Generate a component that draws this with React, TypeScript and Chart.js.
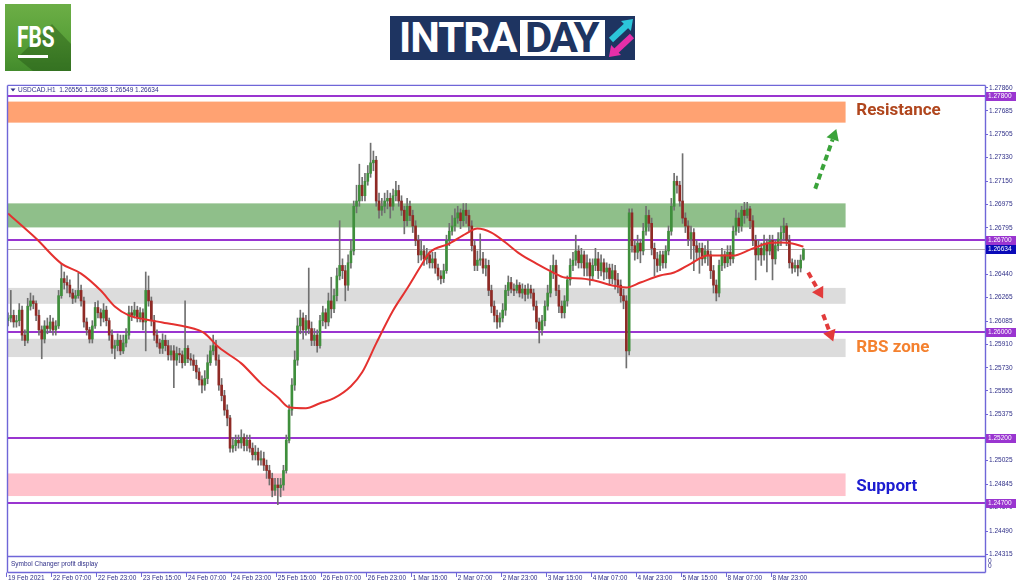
import React, { useEffect, useRef } from 'react';
import { Chart, registerables } from 'chart.js';

Chart.register(...registerables);

// ---------------- data ----------------
const SYMBOL = 'USDCAD.H1';

const X_TICK_INDEX = [0, 16, 32, 48, 64, 80, 96, 112, 128, 144, 160, 176, 192, 208, 224, 240, 256, 272];
const X_TICK_LABELS = [
  '19 Feb 2021', '22 Feb 07:00', '22 Feb 23:00', '23 Feb 15:00', '24 Feb 07:00', '24 Feb 23:00',
  '25 Feb 15:00', '26 Feb 07:00', '26 Feb 23:00', '1 Mar 15:00', '2 Mar 07:00', '2 Mar 23:00',
  '3 Mar 15:00', '4 Mar 07:00', '4 Mar 23:00', '5 Mar 15:00', '8 Mar 07:00', '8 Mar 23:00',
];

const Y_TICKS = [
  1.2786, 1.27685, 1.27505, 1.2733, 1.2715, 1.26975, 1.26795, 1.2662, 1.2644, 1.26265, 1.26085,
  1.2591, 1.2573, 1.25555, 1.25375, 1.252, 1.25025, 1.24845, 1.2467, 1.2449, 1.24315,
];

// hourly candles: [open, high, low, close]
const OHLC = [
  [1.2609,1.2615,1.2605,1.2611],[1.2611,1.2632,1.2608,1.2613],[1.2613,1.2617,1.2604,1.2608],[1.2608,1.2613,1.2604,1.2609],
  [1.2609,1.2622,1.2605,1.2617],[1.2617,1.2620,1.2594,1.2598],[1.2598,1.2602,1.2590,1.2594],[1.2594,1.2626,1.2592,1.2620],
  [1.2620,1.2630,1.2617,1.2624],[1.2624,1.2628,1.2618,1.2622],[1.2622,1.2624,1.2609,1.2613],[1.2613,1.2617,1.2598,1.2602],
  [1.2602,1.2605,1.2580,1.2595],[1.2595,1.2609,1.2592,1.2605],[1.2605,1.2611,1.2599,1.2603],[1.2603,1.2613,1.2600,1.2608],
  [1.2608,1.2611,1.2598,1.2602],[1.2602,1.2609,1.2598,1.2605],[1.2605,1.2632,1.2603,1.2628],[1.2628,1.2652,1.2626,1.2641],
  [1.2641,1.2646,1.2633,1.2638],[1.2638,1.2643,1.2630,1.2636],[1.2636,1.2640,1.2627,1.2630],[1.2630,1.2633,1.2622,1.2626],
  [1.2626,1.2632,1.2623,1.2628],[1.2628,1.2645,1.2626,1.2632],[1.2632,1.2636,1.2620,1.2624],[1.2624,1.2627,1.2604,1.2608],
  [1.2608,1.2611,1.2598,1.2602],[1.2602,1.2604,1.2592,1.2595],[1.2595,1.2609,1.2592,1.2605],[1.2605,1.2623,1.2603,1.2619],
  [1.2619,1.2624,1.2611,1.2615],[1.2615,1.2618,1.2605,1.2611],[1.2611,1.2622,1.2608,1.2617],[1.2617,1.2620,1.2605,1.2609],
  [1.2609,1.2611,1.2594,1.2598],[1.2598,1.2602,1.2584,1.2588],[1.2588,1.2594,1.2580,1.2590],[1.2590,1.2599,1.2586,1.2594],
  [1.2594,1.2598,1.2583,1.2586],[1.2586,1.2598,1.2584,1.2592],[1.2592,1.2603,1.2589,1.2598],[1.2598,1.2620,1.2595,1.2615],
  [1.2615,1.2620,1.2609,1.2613],[1.2613,1.2623,1.2611,1.2617],[1.2617,1.2620,1.2608,1.2611],[1.2611,1.2619,1.2608,1.2615],
  [1.2615,1.2618,1.2602,1.2608],[1.2608,1.2646,1.2586,1.2632],[1.2632,1.2643,1.2620,1.2624],[1.2624,1.2627,1.2605,1.2609],
  [1.2609,1.2613,1.2594,1.2598],[1.2598,1.2602,1.2589,1.2592],[1.2592,1.2595,1.2584,1.2588],[1.2588,1.2599,1.2584,1.2594],
  [1.2594,1.2598,1.2586,1.2590],[1.2590,1.2594,1.2579,1.2583],[1.2583,1.2590,1.2579,1.2586],[1.2586,1.2590,1.2558,1.2579],
  [1.2579,1.2589,1.2575,1.2584],[1.2584,1.2588,1.2577,1.2583],[1.2583,1.2586,1.2573,1.2577],[1.2577,1.2624,1.2575,1.2588],
  [1.2588,1.2590,1.2577,1.2580],[1.2580,1.2584,1.2575,1.2579],[1.2579,1.2583,1.2571,1.2575],[1.2575,1.2579,1.2565,1.2570],
  [1.2570,1.2573,1.2560,1.2564],[1.2564,1.2567,1.2554,1.2560],[1.2560,1.2571,1.2556,1.2565],[1.2565,1.2583,1.2561,1.2577],
  [1.2577,1.2590,1.2575,1.2586],[1.2586,1.2598,1.2583,1.2590],[1.2590,1.2594,1.2575,1.2579],[1.2579,1.2583,1.2556,1.2560],
  [1.2560,1.2565,1.2548,1.2552],[1.2552,1.2556,1.2537,1.2541],[1.2541,1.2545,1.2529,1.2535],[1.2535,1.2537,1.2509,1.2512],
  [1.2512,1.2520,1.2509,1.2514],[1.2514,1.2522,1.2510,1.2518],[1.2518,1.2522,1.2512,1.2516],[1.2516,1.2526,1.2512,1.2520],
  [1.2520,1.2523,1.2510,1.2514],[1.2514,1.2522,1.2510,1.2518],[1.2518,1.2522,1.2509,1.2512],[1.2512,1.2516,1.2503,1.2507],
  [1.2507,1.2514,1.2503,1.2509],[1.2509,1.2512,1.2499,1.2503],[1.2503,1.2510,1.2499,1.2504],[1.2504,1.2509,1.2495,1.2499],
  [1.2499,1.2503,1.2489,1.2495],[1.2495,1.2499,1.2484,1.2489],[1.2489,1.2493,1.2475,1.2480],[1.2480,1.2489,1.2476,1.2484],
  [1.2484,1.2489,1.2469,1.2482],[1.2482,1.2489,1.2475,1.2484],[1.2484,1.2499,1.2480,1.2495],[1.2495,1.2522,1.2493,1.2518],
  [1.2518,1.2545,1.2516,1.2541],[1.2541,1.2565,1.2537,1.2560],[1.2560,1.2586,1.2556,1.2579],[1.2579,1.2611,1.2575,1.2605],
  [1.2605,1.2617,1.2599,1.2611],[1.2611,1.2615,1.2595,1.2602],[1.2602,1.2613,1.2598,1.2609],[1.2609,1.2649,1.2599,1.2603],
  [1.2603,1.2608,1.2590,1.2594],[1.2594,1.2603,1.2590,1.2598],[1.2598,1.2602,1.2585,1.2590],[1.2590,1.2613,1.2588,1.2609],
  [1.2609,1.2620,1.2605,1.2615],[1.2615,1.2618,1.2603,1.2608],[1.2608,1.2630,1.2605,1.2624],[1.2624,1.2642,1.2611,1.2618],
  [1.2618,1.2633,1.2615,1.2628],[1.2628,1.2649,1.2624,1.2643],[1.2643,1.2685,1.2640,1.2651],[1.2651,1.2656,1.2641,1.2647],
  [1.2647,1.2651,1.2624,1.2636],[1.2636,1.2659,1.2632,1.2653],[1.2653,1.2670,1.2649,1.2662],[1.2662,1.2700,1.2659,1.2696],
  [1.2696,1.2712,1.2691,1.2700],[1.2700,1.2728,1.2696,1.2712],[1.2712,1.2718,1.2700,1.2704],[1.2704,1.2721,1.2700,1.2715],
  [1.2715,1.2727,1.2712,1.2721],[1.2721,1.2744,1.2718,1.2729],[1.2729,1.2738,1.2723,1.2731],[1.2731,1.2734,1.2696,1.2700],
  [1.2700,1.2706,1.2687,1.2693],[1.2693,1.2702,1.2689,1.2696],[1.2696,1.2706,1.2691,1.2700],[1.2700,1.2708,1.2694,1.2702],
  [1.2702,1.2706,1.2687,1.2696],[1.2696,1.2709,1.2693,1.2704],[1.2704,1.2715,1.2700,1.2708],[1.2708,1.2712,1.2696,1.2700],
  [1.2700,1.2704,1.2689,1.2693],[1.2693,1.2696,1.2675,1.2685],[1.2685,1.2702,1.2681,1.2696],[1.2696,1.2700,1.2685,1.2689],
  [1.2689,1.2693,1.2676,1.2681],[1.2681,1.2685,1.2666,1.2670],[1.2670,1.2674,1.2653,1.2659],[1.2659,1.2670,1.2655,1.2662],
  [1.2662,1.2666,1.2651,1.2656],[1.2656,1.2664,1.2652,1.2659],[1.2659,1.2662,1.2649,1.2653],[1.2653,1.2661,1.2649,1.2656],
  [1.2656,1.2661,1.2645,1.2649],[1.2649,1.2652,1.2640,1.2643],[1.2643,1.2647,1.2637,1.2641],[1.2641,1.2652,1.2638,1.2647],
  [1.2647,1.2674,1.2645,1.2670],[1.2670,1.2683,1.2666,1.2677],[1.2677,1.2689,1.2674,1.2681],[1.2681,1.2694,1.2677,1.2687],
  [1.2687,1.2696,1.2683,1.2691],[1.2691,1.2694,1.2679,1.2685],[1.2685,1.2698,1.2681,1.2693],[1.2693,1.2698,1.2683,1.2689],
  [1.2689,1.2693,1.2677,1.2681],[1.2681,1.2685,1.2662,1.2666],[1.2666,1.2670,1.2647,1.2651],[1.2651,1.2662,1.2647,1.2655],
  [1.2655,1.2675,1.2651,1.2656],[1.2656,1.2661,1.2645,1.2649],[1.2649,1.2656,1.2643,1.2651],[1.2651,1.2655,1.2628,1.2632],
  [1.2632,1.2636,1.2615,1.2620],[1.2620,1.2624,1.2608,1.2613],[1.2613,1.2617,1.2603,1.2608],[1.2608,1.2615,1.2604,1.2611],
  [1.2611,1.2622,1.2608,1.2617],[1.2617,1.2636,1.2613,1.2632],[1.2632,1.2643,1.2628,1.2638],[1.2638,1.2642,1.2630,1.2633],
  [1.2633,1.2637,1.2628,1.2632],[1.2632,1.2640,1.2630,1.2636],[1.2636,1.2638,1.2627,1.2630],[1.2630,1.2637,1.2626,1.2633],
  [1.2633,1.2636,1.2624,1.2629],[1.2629,1.2637,1.2626,1.2633],[1.2633,1.2636,1.2626,1.2630],[1.2630,1.2633,1.2617,1.2620],
  [1.2620,1.2624,1.2603,1.2608],[1.2608,1.2611,1.2592,1.2602],[1.2602,1.2613,1.2598,1.2609],[1.2609,1.2624,1.2605,1.2620],
  [1.2620,1.2636,1.2617,1.2630],[1.2630,1.2651,1.2627,1.2646],[1.2646,1.2659,1.2641,1.2651],[1.2651,1.2655,1.2628,1.2632],
  [1.2632,1.2636,1.2615,1.2620],[1.2620,1.2624,1.2611,1.2615],[1.2615,1.2628,1.2611,1.2624],[1.2624,1.2643,1.2620,1.2640],
  [1.2640,1.2656,1.2636,1.2651],[1.2651,1.2661,1.2647,1.2655],[1.2655,1.2674,1.2651,1.2662],[1.2662,1.2666,1.2649,1.2653],
  [1.2653,1.2664,1.2649,1.2659],[1.2659,1.2662,1.2643,1.2649],[1.2649,1.2659,1.2643,1.2653],[1.2653,1.2656,1.2636,1.2643],
  [1.2643,1.2656,1.2640,1.2651],[1.2651,1.2664,1.2647,1.2656],[1.2656,1.2661,1.2641,1.2647],[1.2647,1.2659,1.2643,1.2653],
  [1.2653,1.2656,1.2640,1.2646],[1.2646,1.2653,1.2641,1.2649],[1.2649,1.2652,1.2636,1.2641],[1.2641,1.2652,1.2637,1.2647],
  [1.2647,1.2651,1.2633,1.2640],[1.2640,1.2645,1.2630,1.2636],[1.2636,1.2640,1.2623,1.2628],[1.2628,1.2633,1.2618,1.2624],
  [1.2624,1.2628,1.2573,1.2586],[1.2586,1.2694,1.2583,1.2691],[1.2691,1.2694,1.2661,1.2666],[1.2666,1.2670,1.2655,1.2661],
  [1.2661,1.2674,1.2656,1.2668],[1.2668,1.2671,1.2653,1.2662],[1.2662,1.2683,1.2659,1.2677],[1.2677,1.2696,1.2674,1.2689],
  [1.2689,1.2693,1.2677,1.2683],[1.2683,1.2687,1.2659,1.2664],[1.2664,1.2668,1.2643,1.2656],[1.2656,1.2661,1.2646,1.2651],
  [1.2651,1.2662,1.2647,1.2659],[1.2659,1.2662,1.2649,1.2653],[1.2653,1.2666,1.2649,1.2662],[1.2662,1.2681,1.2659,1.2677],
  [1.2677,1.2702,1.2674,1.2696],[1.2696,1.2721,1.2693,1.2715],[1.2715,1.2719,1.2706,1.2712],[1.2712,1.2715,1.2696,1.2700],
  [1.2700,1.2736,1.2683,1.2687],[1.2687,1.2691,1.2676,1.2681],[1.2681,1.2685,1.2666,1.2671],[1.2671,1.2681,1.2656,1.2676],
  [1.2676,1.2679,1.2647,1.2666],[1.2666,1.2670,1.2656,1.2661],[1.2661,1.2668,1.2645,1.2664],[1.2664,1.2668,1.2651,1.2656],
  [1.2656,1.2666,1.2653,1.2662],[1.2662,1.2670,1.2651,1.2659],[1.2659,1.2662,1.2641,1.2647],[1.2647,1.2651,1.2630,1.2636],
  [1.2636,1.2640,1.2624,1.2630],[1.2630,1.2655,1.2627,1.2651],[1.2651,1.2664,1.2647,1.2659],[1.2659,1.2662,1.2649,1.2653],
  [1.2653,1.2666,1.2650,1.2661],[1.2661,1.2666,1.2651,1.2656],[1.2656,1.2681,1.2653,1.2677],[1.2677,1.2693,1.2674,1.2687],
  [1.2687,1.2691,1.2676,1.2681],[1.2681,1.2696,1.2677,1.2693],[1.2693,1.2699,1.2683,1.2689],[1.2689,1.2699,1.2687,1.2694],
  [1.2694,1.2696,1.2679,1.2685],[1.2685,1.2689,1.2666,1.2670],[1.2670,1.2674,1.2640,1.2659],[1.2659,1.2670,1.2655,1.2664],
  [1.2664,1.2668,1.2651,1.2659],[1.2659,1.2674,1.2655,1.2668],[1.2668,1.2671,1.2646,1.2662],[1.2662,1.2674,1.2659,1.2670],
  [1.2670,1.2674,1.2640,1.2656],[1.2656,1.2670,1.2652,1.2666],[1.2666,1.2676,1.2662,1.2671],[1.2671,1.2681,1.2666,1.2676],
  [1.2676,1.2687,1.2670,1.2681],[1.2681,1.2683,1.2666,1.2670],[1.2670,1.2674,1.2649,1.2653],[1.2653,1.2656,1.2645,1.2649],
  [1.2649,1.2655,1.2646,1.2651],[1.2651,1.2655,1.2643,1.2649],[1.2649,1.2659,1.2646,1.2655],[1.26556,1.26638,1.26549,1.26634],
];

// moving average (red line), read at these candle positions
const MA_INDEX = [0, 10, 19, 26, 33, 38, 43, 49, 55, 68, 70, 75, 83, 90, 96, 100, 106, 111, 116, 122, 126, 131, 137, 142, 147, 150, 157, 163, 167, 172, 177, 182, 188, 194, 198, 204, 210, 215, 220, 225, 232, 237, 243, 249, 253, 258, 264, 270, 275, 279, 283];
const MA_VALUE = [1.26904, 1.26714, 1.26524, 1.26448, 1.26319, 1.26198, 1.2613, 1.26099, 1.26076, 1.26016, 1.25993, 1.25887, 1.25765, 1.25613, 1.25507, 1.25431, 1.25424, 1.25462, 1.255, 1.25591, 1.25697, 1.25917, 1.26167, 1.26334, 1.26509, 1.26608, 1.26676, 1.26752, 1.2679, 1.26759, 1.26684, 1.266, 1.26524, 1.26456, 1.26418, 1.2641, 1.26388, 1.26357, 1.26342, 1.2638, 1.26433, 1.26456, 1.26524, 1.26585, 1.26585, 1.26585, 1.2663, 1.26676, 1.26684, 1.26676, 1.26653];

const LEVELS = [1.278, 1.267, 1.26, 1.252, 1.247];
const CURRENT_PRICE = 1.26634;

const ZONE_TOP = [1.27756, 1.26982, 1.26339, 1.25952, 1.24928];
const ZONE_BOTTOM = [1.27596, 1.26799, 1.26218, 1.25813, 1.24756];
const ZONE_END_INDEX = 298;

const LABEL_TEXT = ['Resistance', 'RBS zone', 'Support'];
const LABEL_PRICE = [1.27685, 1.25886, 1.24824];
const LABEL_INDEX = 301.8;

const ARROW_FROM_INDEX = [287.2, 284.7, 290.0];
const ARROW_FROM_PRICE = [1.27093, 1.26456, 1.26137];
const ARROW_TO_INDEX = [294.7, 290.0, 293.6];
const ARROW_TO_PRICE = [1.27548, 1.26258, 1.25932];

// ---------------- styles ----------------
const X_MIN = -0.36, X_MAX = 347.6;
const Y_MIN = 1.243, Y_MAX = 1.27883;
const FRAME = '#6f66d8';
const AXIS_TEXT = '#2f2f88';
const LEVEL_COLOR = '#9a35d0';
const PRICE_BOX = '#0a0ab8';
const PRICE_LINE = '#b4a8a8';
const UP_COLOR = '#3f8f3c';
const DOWN_COLOR = '#8f2a25';
const WICK_COLOR = '#707070';
const MA_COLOR = '#e4312f';
const ZONE_FILL = ['#ffa272', '#8fbf8a', '#dcdcdc', '#dcdcdc', '#ffc2cc'];
const LABEL_COLORS = ['#b0461d', '#f4812f', '#1c1cd0'];
const ARROW_COLORS = ['#3aa33a', '#e23b3b', '#e23b3b'];
const SMALL_FONT = '"Liberation Sans", Arial, sans-serif';

function drawArrow(ctx: CanvasRenderingContext2D, x1: number, y1: number, x2: number, y2: number, color: string) {
  const ang = Math.atan2(y2 - y1, x2 - x1);
  const head = 11;
  const bx = x2 - head * Math.cos(ang);
  const by = y2 - head * Math.sin(ang);
  ctx.strokeStyle = color;
  ctx.lineWidth = 4;
  ctx.setLineDash([6, 4]);
  ctx.beginPath();
  ctx.moveTo(x1, y1);
  ctx.lineTo(bx, by);
  ctx.stroke();
  ctx.setLineDash([]);
  ctx.fillStyle = color;
  const w = 6.5;
  ctx.beginPath();
  ctx.moveTo(x2, y2);
  ctx.lineTo(bx + w * Math.sin(ang), by - w * Math.cos(ang));
  ctx.lineTo(bx - w * Math.sin(ang), by + w * Math.cos(ang));
  ctx.closePath();
  ctx.fill();
}

const overlayPlugin = {
  id: 'mtOverlay',
  beforeDatasetsDraw(chart: any) {
    const { ctx, chartArea: a } = chart;
    const xs = chart.scales.x, ys = chart.scales.y;
    ctx.save();
    const xEnd = xs.getPixelForValue(ZONE_END_INDEX);
    ZONE_TOP.forEach((top, k) => {
      const y1 = ys.getPixelForValue(top);
      const y2 = ys.getPixelForValue(ZONE_BOTTOM[k]);
      ctx.fillStyle = ZONE_FILL[k];
      ctx.fillRect(a.left + 1, y1, xEnd - a.left - 1, y2 - y1);
    });
    const cy = Math.round(ys.getPixelForValue(CURRENT_PRICE)) + 0.5;
    ctx.strokeStyle = PRICE_LINE;
    ctx.lineWidth = 1;
    ctx.beginPath();
    ctx.moveTo(a.left, cy);
    ctx.lineTo(a.right, cy);
    ctx.stroke();
    ctx.strokeStyle = LEVEL_COLOR;
    ctx.lineWidth = 2;
    LEVELS.forEach((v) => {
      const py = Math.round(ys.getPixelForValue(v));
      ctx.beginPath();
      ctx.moveTo(a.left, py);
      ctx.lineTo(a.right, py);
      ctx.stroke();
    });
    ctx.restore();
  },
  afterDatasetsDraw(chart: any) {
    const { ctx } = chart;
    const xs = chart.scales.x, ys = chart.scales.y;
    ctx.save();
    ctx.font = 'bold 17px Roboto, "Liberation Sans", sans-serif';
    ctx.textBaseline = 'middle';
    ctx.textAlign = 'left';
    LABEL_TEXT.forEach((t, k) => {
      ctx.fillStyle = LABEL_COLORS[k];
      ctx.fillText(t, xs.getPixelForValue(LABEL_INDEX), ys.getPixelForValue(LABEL_PRICE[k]));
    });
    ARROW_FROM_INDEX.forEach((fx, k) => {
      drawArrow(
        ctx,
        xs.getPixelForValue(fx), ys.getPixelForValue(ARROW_FROM_PRICE[k]),
        xs.getPixelForValue(ARROW_TO_INDEX[k]), ys.getPixelForValue(ARROW_TO_PRICE[k]),
        ARROW_COLORS[k],
      );
    });
    ctx.restore();
  },
  afterDraw(chart: any) {
    const { ctx, chartArea: a } = chart;
    const xs = chart.scales.x, ys = chart.scales.y;
    ctx.save();
    // frame and sub window
    const L = a.left + 0.5, R = a.right + 0.5, T = a.top + 0.5, B = a.bottom + 0.5, SB = a.bottom + 16.5;
    ctx.strokeStyle = FRAME;
    ctx.lineWidth = 1.4;
    ctx.beginPath();
    ctx.moveTo(L, T); ctx.lineTo(R, T);
    ctx.moveTo(L, B); ctx.lineTo(R, B);
    ctx.moveTo(L, SB); ctx.lineTo(R, SB);
    ctx.moveTo(L, T); ctx.lineTo(L, SB);
    ctx.moveTo(R, T); ctx.lineTo(R, SB);
    ctx.stroke();
    // time tick marks
    ctx.lineWidth = 1;
    ctx.beginPath();
    X_TICK_INDEX.forEach((v) => {
      const px = Math.round(xs.getPixelForValue(v)) - 1.5;
      ctx.moveTo(px, SB);
      ctx.lineTo(px, SB + 4.5);
    });
    ctx.stroke();
    // texts
    ctx.font = `6.5px ${SMALL_FONT}`;
    ctx.textBaseline = 'middle';
    ctx.textAlign = 'left';
    ctx.fillStyle = AXIS_TEXT;
    const last = OHLC[OHLC.length - 1];
    ctx.beginPath();
    ctx.moveTo(a.left + 3.5, a.top + 3.5);
    ctx.lineTo(a.left + 8.5, a.top + 3.5);
    ctx.lineTo(a.left + 6, a.top + 6.5);
    ctx.closePath();
    ctx.fill();
    ctx.fillText(`${SYMBOL}  ${last.map((v) => v.toFixed(5)).join(' ')}`, a.left + 11, a.top + 5);
    ctx.fillText('Symbol Changer profit display', a.left + 4, a.bottom + 8);
    ctx.fillText('0', a.right + 3, a.bottom + 5);
    ctx.fillText('0', a.right + 3, a.bottom + 10);
    // price boxes on the axis
    const box = (v: number, color: string) => {
      const py = Math.round(ys.getPixelForValue(v));
      ctx.fillStyle = color;
      ctx.fillRect(a.right + 1, py - 4, 30, 9);
      ctx.fillStyle = '#ffffff';
      ctx.fillText(v.toFixed(5), a.right + 3, py + 0.5);
    };
    LEVELS.forEach((v) => box(v, LEVEL_COLOR));
    box(CURRENT_PRICE, PRICE_BOX);
    ctx.restore();
  },
};

function FbsLogo() {
  return (
    <div style={{ position: 'absolute', left: 5, top: 4, width: 66, height: 67, overflow: 'hidden', background: 'linear-gradient(180deg,#6cae46 0%,#58a038 55%,#438b2c 100%)' }}>
      <svg width="66" height="67" style={{ position: 'absolute', left: 0, top: 0 }}>
        <polygon points="12,54 47,20 66,40 66,67 28,67" fill="rgba(25,70,15,0.35)" />
      </svg>
      <div style={{ position: 'absolute', left: 12, top: 16, color: '#ffffff', fontFamily: 'Roboto, sans-serif', fontWeight: 700, fontSize: 29, lineHeight: '34px', transform: 'scaleX(0.72)', transformOrigin: '0 0', whiteSpace: 'nowrap' }}>FBS</div>
      <div style={{ position: 'absolute', left: 13, top: 51, width: 30, height: 3, background: '#ffffff' }} />
    </div>
  );
}

function IntradayLogo() {
  const navy = '#1e3461';
  return (
    <div style={{ position: 'absolute', left: 390, top: 16, width: 245, height: 44, background: navy, overflow: 'hidden' }}>
      <div style={{ position: 'absolute', left: 9, top: 1, color: '#ffffff', fontFamily: 'Roboto, sans-serif', fontWeight: 700, fontSize: 42, lineHeight: '42px', letterSpacing: -1, whiteSpace: 'nowrap' }}>INTRA</div>
      <div style={{ position: 'absolute', left: 130, top: 4, width: 85, height: 36, background: '#ffffff', overflow: 'hidden' }}>
        <div style={{ position: 'absolute', left: 5, top: -3, color: navy, fontFamily: 'Roboto, sans-serif', fontWeight: 700, fontSize: 42, lineHeight: '42px', letterSpacing: -2, whiteSpace: 'nowrap' }}>DAY</div>
      </div>
      <svg width="245" height="44" style={{ position: 'absolute', left: 0, top: 0 }}>
        <line x1="221" y1="24" x2="237" y2="9" stroke="#2cc6da" strokeWidth="6" />
        <polygon points="243,3 240.9,15 231,5.1" fill="#2cc6da" />
        <line x1="242" y1="20" x2="226" y2="35" stroke="#e52fa9" strokeWidth="6" />
        <polygon points="219,41 231,38.9 221.1,29" fill="#e52fa9" />
      </svg>
    </div>
  );
}

export default function App() {
  const ref = useRef<HTMLCanvasElement>(null);

  useEffect(() => {
    if (!ref.current) return;
    const bodyColors = OHLC.map((c) => (c[3] >= c[0] ? UP_COLOR : DOWN_COLOR));
    const chart = new Chart(ref.current, {
      type: 'bar',
      data: {
        datasets: [
          {
            type: 'line',
            data: MA_INDEX.map((x, k) => ({ x, y: MA_VALUE[k] })),
            borderColor: MA_COLOR,
            borderWidth: 2,
            pointRadius: 0,
            tension: 0.4,
            cubicInterpolationMode: 'monotone',
            order: 0,
          } as any,
          {
            type: 'bar',
            data: OHLC.map((c, i) => ({ x: i, y: [c[0], c[3]] })),
            backgroundColor: bodyColors,
            borderWidth: 0,
            barThickness: 2,
            grouped: false,
            minBarLength: 1,
            order: 1,
          } as any,
          {
            type: 'bar',
            data: OHLC.map((c, i) => ({ x: i, y: [c[2], c[1]] })),
            backgroundColor: WICK_COLOR,
            borderWidth: 0,
            barThickness: 1,
            grouped: false,
            order: 2,
          } as any,
        ],
      },
      options: {
        responsive: false,
        animation: false,
        devicePixelRatio: 1,
        events: [],
        layout: { padding: { left: 7, top: 4, right: 0, bottom: 0 } },
        plugins: { legend: { display: false }, tooltip: { enabled: false } },
        scales: {
          x: {
            type: 'linear',
            position: 'bottom',
            min: X_MIN,
            max: X_MAX,
            offset: false,
            grid: { display: false, drawTicks: false },
            border: { display: false },
            afterBuildTicks: (s: any) => { s.ticks = X_TICK_INDEX.map((v) => ({ value: v })); },
            afterFit: (s: any) => { s.height = 31; },
            ticks: {
              autoSkip: false,
              maxRotation: 0,
              minRotation: 0,
              align: 'start',
              padding: 0,
              color: AXIS_TEXT,
              font: { family: SMALL_FONT, size: 6.5, lineHeight: '44.5px' },
              callback: (v: any) => {
                const k = X_TICK_INDEX.indexOf(Number(v));
                return k >= 0 ? X_TICK_LABELS[k] : '';
              },
            },
          },
          y: {
            type: 'linear',
            position: 'right',
            min: Y_MIN,
            max: Y_MAX,
            grid: { drawOnChartArea: false, drawTicks: true, tickLength: 3, color: FRAME, lineWidth: 1 },
            border: { display: false },
            afterBuildTicks: (s: any) => { s.ticks = Y_TICKS.map((v) => ({ value: v })); },
            afterFit: (s: any) => { s.width = 39; },
            ticks: {
              autoSkip: false,
              padding: 1,
              color: AXIS_TEXT,
              font: { family: SMALL_FONT, size: 6.5 },
              callback: (v: any) => Number(v).toFixed(5),
            },
          },
        },
      } as any,
      plugins: [overlayPlugin],
    });
    return () => chart.destroy();
  }, []);

  return (
    <div style={{ position: 'absolute', left: 0, top: 0, width: 1024, height: 587, background: '#ffffff', overflow: 'hidden' }}>
      <FbsLogo />
      <IntradayLogo />
      <canvas ref={ref} width={1024} height={507} style={{ position: 'absolute', left: 0, top: 80, width: 1024, height: 507 }} />
    </div>
  );
}
